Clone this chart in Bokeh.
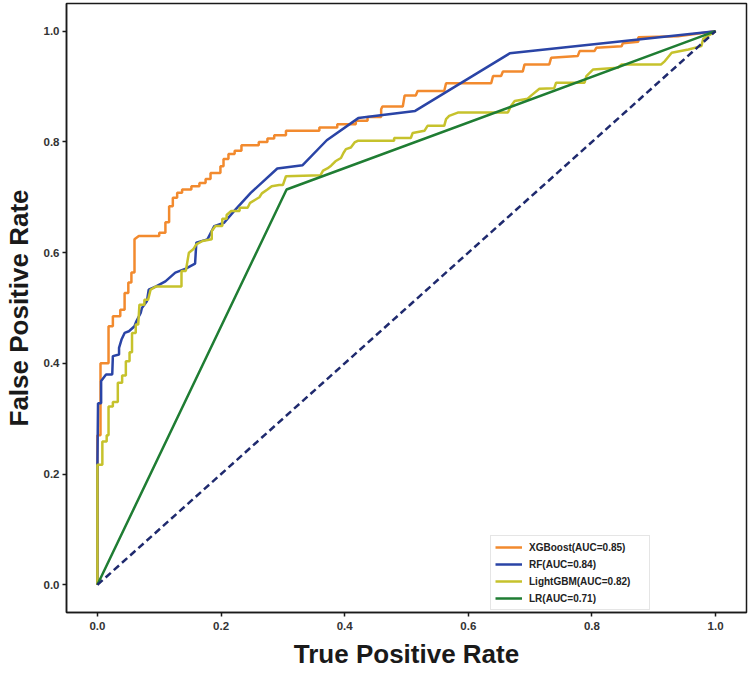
from bokeh.plotting import figure
from bokeh.models import FixedTicker, Range1d, PrintfTickFormatter
from bokeh.embed import file_html
from bokeh.resources import INLINE

# ---------------- data ----------------
xgb_fpr = [0, 0, 0.005, 0.005, 0.018, 0.018, 0.025, 0.025, 0.037, 0.037, 0.044, 0.044,
           0.050, 0.050, 0.055, 0.055, 0.060, 0.060, 0.067, 0.100, 0.100, 0.110, 0.110,
           0.116, 0.116, 0.122, 0.122, 0.129, 0.129, 0.137, 0.137, 0.152, 0.152, 0.165,
           0.165, 0.175, 0.175, 0.183, 0.183, 0.199, 0.199, 0.204, 0.204, 0.212, 0.212,
           0.222, 0.222, 0.233, 0.233, 0.261, 0.261, 0.275, 0.275, 0.286, 0.286, 0.305,
           0.305, 0.359, 0.359, 0.388, 0.388, 0.418, 0.418, 0.437, 0.437, 0.459, 0.459,
           0.461, 0.494, 0.497, 0.515, 0.518, 0.561, 0.564, 0.637, 0.640, 0.653, 0.656,
           0.688, 0.691, 0.731, 0.734, 0.777, 0.780, 0.804, 0.807, 0.848, 0.850, 0.875,
           0.875, 0.939, 1.0]
xgb_tpr = [0, 0.270, 0.270, 0.400, 0.400, 0.467, 0.467, 0.485, 0.485, 0.497, 0.497, 0.527,
           0.527, 0.546, 0.546, 0.564, 0.564, 0.624, 0.630, 0.630, 0.636, 0.636, 0.655,
           0.655, 0.684, 0.684, 0.699, 0.699, 0.708, 0.708, 0.714, 0.714, 0.720, 0.720,
           0.726, 0.726, 0.733, 0.733, 0.744, 0.744, 0.756, 0.756, 0.769, 0.769, 0.778,
           0.778, 0.784, 0.784, 0.794, 0.794, 0.800, 0.800, 0.806, 0.806, 0.812, 0.812,
           0.820, 0.820, 0.826, 0.826, 0.832, 0.832, 0.838, 0.838, 0.845, 0.845, 0.859,
           0.864, 0.864, 0.884, 0.884, 0.892, 0.892, 0.906, 0.906, 0.919, 0.919, 0.927,
           0.927, 0.940, 0.940, 0.952, 0.955, 0.964, 0.964, 0.970, 0.973, 0.978, 0.981,
           0.989, 0.991, 1.0]

rf_fpr = [0, 0, 0.001, 0.006, 0.006, 0.014, 0.024, 0.025, 0.035, 0.035, 0.039, 0.044,
          0.051, 0.060, 0.063, 0.070, 0.072, 0.080, 0.083, 0.095, 0.110, 0.126, 0.143,
          0.158, 0.160, 0.178, 0.189, 0.205, 0.221, 0.248, 0.291, 0.332, 0.371, 0.422,
          0.514, 0.667, 1.0]
rf_tpr = [0, 0.214, 0.328, 0.328, 0.368, 0.380, 0.380, 0.413, 0.416, 0.428, 0.443, 0.455,
          0.458, 0.467, 0.476, 0.491, 0.500, 0.512, 0.533, 0.539, 0.548, 0.564, 0.571,
          0.580, 0.618, 0.624, 0.648, 0.654, 0.675, 0.708, 0.752, 0.758, 0.803, 0.843,
          0.856, 0.960, 1.0]

lgbm_fpr = [0, 0, 0.008, 0.008, 0.015, 0.015, 0.018, 0.018, 0.025, 0.025, 0.033, 0.033,
            0.040, 0.040, 0.046, 0.046, 0.052, 0.052, 0.056, 0.056, 0.062, 0.062, 0.066,
            0.068, 0.076, 0.076, 0.082, 0.086, 0.095, 0.136, 0.136, 0.143, 0.148, 0.155,
            0.160, 0.170, 0.185, 0.185, 0.191, 0.202, 0.202, 0.209, 0.209, 0.216, 0.230,
            0.230, 0.243, 0.247, 0.256, 0.262, 0.266, 0.275, 0.282, 0.294, 0.300, 0.305,
            0.361, 0.365, 0.372, 0.378, 0.385, 0.394, 0.398, 0.402, 0.410, 0.416, 0.421,
            0.480, 0.480, 0.507, 0.510, 0.529, 0.534, 0.561, 0.564, 0.569, 0.583, 0.664,
            0.669, 0.675, 0.696, 0.702, 0.715, 0.739, 0.742, 0.788, 0.791, 0.802, 0.842,
            0.848, 0.912, 0.918, 0.929, 0.956, 0.977, 0.980, 1.0]
lgbm_tpr = [0, 0.217, 0.217, 0.259, 0.259, 0.270, 0.270, 0.322, 0.322, 0.330, 0.330, 0.365,
            0.365, 0.378, 0.378, 0.404, 0.404, 0.420, 0.420, 0.455, 0.455, 0.470, 0.470,
            0.506, 0.506, 0.515, 0.515, 0.533, 0.539, 0.539, 0.567, 0.567, 0.600, 0.606,
            0.615, 0.621, 0.624, 0.639, 0.648, 0.648, 0.661, 0.661, 0.668, 0.675, 0.675,
            0.681, 0.681, 0.690, 0.696, 0.700, 0.707, 0.714, 0.720, 0.722, 0.722, 0.738,
            0.740, 0.748, 0.752, 0.757, 0.765, 0.771, 0.780, 0.787, 0.790, 0.799, 0.802,
            0.802, 0.807, 0.807, 0.816, 0.820, 0.829, 0.829, 0.841, 0.847, 0.853, 0.853,
            0.865, 0.874, 0.878, 0.884, 0.896, 0.897, 0.907, 0.907, 0.919, 0.931, 0.934,
            0.940, 0.940, 0.946, 0.961, 0.967, 0.973, 0.986, 1.0]

lr_fpr = [0, 0.306, 1.0]
lr_tpr = [0, 0.714, 1.0]

diag = [0, 1]

labels = ["XGBoost(AUC=0.85)", "RF(AUC=0.84)", "LightGBM(AUC=0.82)", "LR(AUC=0.71)"]
colors = ["#f28a2e", "#2a44a6", "#c6c22c", "#1f7d33"]
ticks = [0.0, 0.2, 0.4, 0.6, 0.8, 1.0]

# ---------------- figure ----------------
p = figure(width=750, height=673, output_backend="svg", toolbar_location=None,
           x_range=Range1d(-0.05, 1.05), y_range=Range1d(-0.05, 1.05),
           min_border_left=66, min_border_right=4, min_border_top=3, min_border_bottom=61)
p.background_fill_color = "white"
p.border_fill_color = "white"
p.outline_line_color = "#1a1a1a"
p.outline_line_width = 1.5
p.xgrid.grid_line_color = None
p.ygrid.grid_line_color = None

series = [(xgb_fpr, xgb_tpr), (rf_fpr, rf_tpr), (lgbm_fpr, lgbm_tpr), (lr_fpr, lr_tpr)]
for (fx, ty), lab, col in zip(series, labels, colors):
    p.line(fx, ty, line_color=col, line_width=2.5, legend_label=lab)
p.line(diag, diag, line_color="#1f2a6e", line_width=2.5, line_dash="7 4")

for ax in (p.xaxis[0], p.yaxis[0]):
    ax.ticker = FixedTicker(ticks=ticks)
    ax.formatter = PrintfTickFormatter(format="%.1f")
    ax.minor_tick_line_color = None
    ax.major_tick_out = 4
    ax.major_tick_in = 0
    ax.major_tick_line_color = "#1a1a1a"
    ax.major_tick_line_width = 1.5
    ax.axis_line_color = "#1a1a1a"
    ax.axis_line_width = 1.5
    ax.major_label_text_font = "Liberation Sans"
    ax.major_label_text_font_style = "bold"
    ax.major_label_text_font_size = "11.5px"
    ax.major_label_text_color = "#333333"
    ax.axis_label_text_font = "Liberation Sans"
    ax.axis_label_text_font_style = "bold"
    ax.axis_label_text_font_size = "26px"
    ax.axis_label_text_color = "#1a1a1a"

p.xaxis.axis_label = "True Positive Rate"
p.yaxis.axis_label = "False Positive Rate"
p.xaxis.major_label_standoff = 5
p.yaxis.major_label_standoff = 3
p.xaxis.axis_label_standoff = 6
p.yaxis.axis_label_standoff = 7

lg = p.legend[0]
lg.location = (424, 2)
lg.label_text_font = "Liberation Sans"
lg.label_text_font_style = "bold"
lg.label_text_font_size = "10px"
lg.label_text_color = "#222222"
lg.glyph_width = 27
lg.glyph_height = 14
lg.label_height = 14
lg.label_width = 116
lg.label_standoff = 7
lg.spacing = 3
lg.padding = 4
lg.margin = 0
lg.border_line_color = "#cccccc"
lg.border_line_width = 1
lg.background_fill_color = "white"
lg.background_fill_alpha = 1.0

open("out.html", "w").write(file_html(p, INLINE))
